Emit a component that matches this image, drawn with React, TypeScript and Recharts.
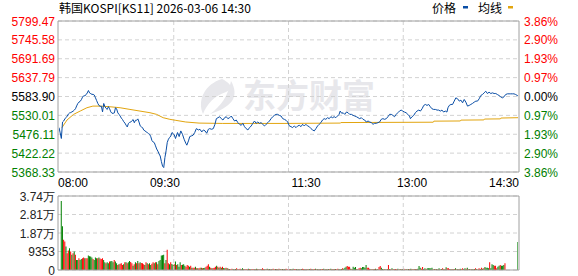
import React from 'react';
import { LineChart, Line, XAxis, YAxis, CartesianGrid, ReferenceLine, BarChart, Bar, Cell } from 'recharts';

// ---------- data ----------
const titleText = '韩国KOSPI[KS11] 2026-03-06 14:30';
const legendNames = ['价格', '均线'];
const prevClose = 5583.9;

const priceTicks = [5368.33, 5422.22, 5476.11, 5530.01, 5583.9, 5637.79, 5691.69, 5745.58, 5799.47];
const priceTickLabels = ['5368.33', '5422.22', '5476.11', '5530.01', '5583.90', '5637.79', '5691.69', '5745.58', '5799.47'];
const pctTickLabels = ['3.86%', '2.90%', '1.93%', '0.97%', '0.00%', '0.97%', '1.93%', '2.90%', '3.86%'];

const timeTicks = [0, 90, 210, 300, 390];
const timeTickLabels = ['08:00', '09:30', '11:30', '13:00', '14:30'];
const gridMinutes = [97.5, 195, 292.5];

const volTicks = [0, 9353, 18706, 28059, 37412];
const volTickLabels = ['0', '9353', '1.87万', '2.81万', '3.74万'];

// [minute since open, price]
const pricePoints: [number, number][] = [
  [0, 5495], [1, 5480], [2, 5464], [3, 5511], [4, 5514], [5, 5520], [6, 5524], [7, 5528], [8, 5534], [9, 5537],
  [10, 5538], [11, 5540], [12, 5542], [13, 5545], [14, 5549], [15, 5557], [16, 5564], [17, 5568], [18, 5570], [19, 5575],
  [20, 5582], [21, 5586], [22, 5586], [23, 5589], [24, 5594], [25, 5601], [26, 5594], [27, 5592], [28, 5590], [29, 5590],
  [30, 5588], [31, 5580], [32, 5572], [33, 5564], [34, 5558], [35, 5556], [36, 5556], [37, 5540], [38, 5564], [39, 5555],
  [40, 5550], [41, 5547], [42, 5555], [43, 5549], [44, 5540], [45, 5536], [46, 5536], [47, 5537], [48, 5552], [49, 5548],
  [50, 5537], [51, 5533], [52, 5528], [53, 5522], [54, 5518], [55, 5512], [56, 5508], [57, 5502], [58, 5497], [59, 5507],
  [60, 5510], [61, 5511], [62, 5515], [63, 5518], [64, 5509], [65, 5516], [66, 5516], [67, 5520], [68, 5511], [69, 5500],
  [70, 5497], [71, 5495], [72, 5488], [73, 5486], [74, 5483], [75, 5481], [76, 5478], [77, 5476], [78, 5469], [79, 5458],
  [80, 5454], [81, 5452], [82, 5443], [83, 5434], [84, 5428], [85, 5420], [86, 5414], [87, 5398], [88, 5385], [89, 5381],
  [90, 5410], [91, 5429], [92, 5453], [93, 5462], [94, 5467], [95, 5471], [96, 5481], [97, 5478], [98, 5474], [99, 5464],
  [100.7, 5481], [102.1, 5469.5], [103.5, 5485.6], [104.9, 5476], [106.3, 5461.9], [107.7, 5450.6], [108.6, 5444.9], [110, 5457.2],
  [111.1, 5469.5], [112.5, 5471.4], [113.9, 5473.3], [115.3, 5480.8], [116.7, 5492.2], [118.4, 5488.4], [119.8, 5490.3], [121.3, 5482.7],
  [122.7, 5488.4], [124.1, 5485.6], [125.5, 5478.9], [126.9, 5490.3], [128, 5492.2], [129.7, 5490.3], [131.1, 5492.2], [132.5, 5504.5],
  [133.7, 5520.6], [135.1, 5523.4], [136.5, 5526.2], [137.9, 5520.6], [139.3, 5516.8], [140.7, 5523.4], [142.1, 5526.2], [143.5, 5520.6],
  [145, 5523.4], [146.4, 5528.1], [147.8, 5520.6], [149.2, 5513.9], [150.6, 5516.8], [152, 5509.2], [153.4, 5504.5], [154.8, 5501.6],
  [156.2, 5507.3], [157.6, 5497.9], [159, 5492.2], [160.5, 5488.4], [161.9, 5495], [163.3, 5499.8], [164.7, 5507.3], [166.1, 5513.9],
  [167.5, 5507.3], [168.9, 5511.1], [170.3, 5507.3], [171.7, 5509.2], [173.1, 5504.5], [174.6, 5499.8], [176, 5504.5], [177.4, 5509.2],
  [178.8, 5513.9], [180.2, 5520.6], [181.6, 5526.2], [183, 5530], [184.4, 5532.9], [185.8, 5532.9], [187.2, 5530], [188.7, 5528.1],
  [190.1, 5520.6], [191.5, 5518.7], [192.9, 5516], [194.3, 5511.1], [195.7, 5499.8], [197.1, 5497.9],
  [198.5, 5495], [199.9, 5499.8], [201.4, 5495], [202.8, 5499.8], [204.2, 5501.6], [205.6, 5497.9], [207, 5504.5], [208.4, 5499.8],
  [209.8, 5504.5], [211.2, 5499.8], [212.6, 5497.9], [214.1, 5492.2], [215.5, 5488.4], [216.9, 5485.6], [218.3, 5492.2], [219.7, 5499.8],
  [221.1, 5504.5], [222.5, 5509.2], [223.9, 5516.8], [225.3, 5520.6], [226.7, 5518.7], [228.2, 5523.4], [229.6, 5520.6], [231, 5526.2],
  [232.4, 5523.4], [233.8, 5526.2], [235.2, 5523.4], [236.6, 5528.1], [238, 5532.9], [238.9, 5542.3], [240.3, 5535.7], [241.4, 5537.6],
  [242.8, 5532.9], [244.2, 5539.5], [245.6, 5537.6], [247, 5532.9], [248.5, 5532.9], [249.9, 5530], [251.3, 5528.1], [252.7, 5526.2],
  [254.1, 5523.4], [255.5, 5520.6], [256.9, 5523.4], [258.3, 5518.7], [259.7, 5516.8], [261.1, 5511.1], [262.6, 5513.9], [264, 5511.1],
  [265.4, 5509.2], [266.8, 5504.5], [268.2, 5507.3], [269.6, 5507.3], [271, 5509.2], [272.4, 5511.1], [273.8, 5518.7], [275.2, 5520.6],
  [276.7, 5518.7], [278.1, 5520.6], [279.5, 5526.2], [280.9, 5532.9], [282.3, 5532.9], [283.7, 5530], [285.1, 5526.2], [286.5, 5532.9],
  [287.9, 5537.6],
  [289.3, 5542.3], [290.7, 5545.1], [292.1, 5542.3], [293.5, 5539.5], [294.9, 5537.6], [296.4, 5532.9], [297.8, 5528.1], [298.6, 5520.6],
  [300, 5526.2], [301.4, 5530], [302.8, 5537.6], [304.2, 5542.3], [305.7, 5545.1], [307.1, 5542.3], [308.5, 5548.9], [309.9, 5558.4],
  [311.3, 5561.2], [312.7, 5558.4], [314.1, 5561.2], [315.5, 5554.6], [316.9, 5548.9], [318.3, 5547], [319.8, 5547], [321.2, 5545.1],
  [322.6, 5545.1], [324, 5542.3], [325.4, 5545.1], [326.8, 5539.5], [328.2, 5542.3], [329.6, 5539.5], [330.5, 5551.8], [331.6, 5558.4],
  [333, 5561.2], [334.4, 5561.2], [335.8, 5570.7], [337.2, 5580.1], [338.7, 5577.3], [340.1, 5570.7], [341.5, 5573.5], [342.9, 5565.9],
  [344.3, 5575.4], [345.7, 5567.8], [347.1, 5556.5], [348.5, 5558.4], [349.9, 5561.2], [351.3, 5564], [352.8, 5567.8], [354.2, 5570.7],
  [355.6, 5570.7], [357, 5577.3], [358.4, 5586.7], [359.8, 5589.6], [361.2, 5594.3], [362.6, 5599], [364, 5592.4], [365.4, 5596.2],
  [366.9, 5592.4], [368.3, 5594.3], [369.7, 5592.4], [371.1, 5592.4], [372.5, 5589.6], [373.9, 5586.7], [375.3, 5583], [376.7, 5580.1],
  [378.1, 5583], [379.5, 5589.6], [381, 5591.5], [382.4, 5591.5], [383.8, 5591.5], [385.2, 5591.5], [386.6, 5591.5], [388, 5589.6],
  [389.4, 5586.7], [390, 5586],
];

// [minute, average price]
const avgPoints: [number, number][] = [
  [2.5, 5495], [6.8, 5516.8], [12.4, 5532.9], [18, 5542.3], [23.7, 5551.8], [28.8, 5556.5], [35, 5556.5], [43.4, 5554.6],
  [51.9, 5551.8], [60.3, 5547], [68.8, 5542.3], [77.3, 5537.6], [82.9, 5532.9], [88.5, 5523.4], [94.2, 5518.7], [99.3, 5515.8],
  [107.7, 5511.1], [119, 5508], [138.7, 5507], [165, 5507], [192, 5507], [239, 5508], [239.5, 5509.5], [318, 5510.5],
  [318.5, 5513.5], [341, 5514], [341.5, 5516.5], [361, 5517], [361.5, 5519.5], [375, 5520], [375.5, 5522.4], [390, 5523.4],
];

// per-minute volume, minute 0..390
const volumes = [
  0, 0, 34850, 22100, 15300, 14450, 11900, 8500, 9800, 11050,
  9350, 7650, 8500, 9350, 7650, 5100, 5100, 5950, 5100, 5600,
  5950, 6290, 5950, 5950, 5950, 7310, 6900, 6800, 6290, 5610,
  5100, 6290, 5950, 5950, 6290, 5800, 5610, 5950, 5100, 3910,
  3400, 3910, 3400, 4250, 4400, 4590, 3910, 5100, 4250, 3400,
  2550, 2890, 3100, 3400, 2550, 2890, 3910, 3910, 3400, 3910,
  4590, 4000, 3400, 2210, 2890, 3910, 3400, 4590, 3400, 3910,
  3600, 3400, 2890, 2550, 3910, 3400, 2890, 3400, 2550, 3200,
  3910, 3400, 3910, 3910, 2890, 4590, 5100, 7310, 7500, 7650,
  3400, 5100, 10200, 3400, 2890, 3910, 3000, 2550, 2890, 4250,
  2550, 2890, 1700, 3910, 2550, 2700, 2890, 2210, 1700, 2550,
  2210, 1700, 2210, 1190, 1100, 1190, 1700, 850, 850, 850,
  1190, 1190, 850, 1000, 1190, 1700, 2210, 2890, 1700, 1190,
  850, 1000, 1190, 1700, 2210, 1700, 1190, 1700, 1190, 1700,
  1000, 850, 1190, 850, 600, 510, 340, 680, 510, 340,
  510, 850, 340, 510, 680, 340, 850, 510, 340, 510,
  340, 680, 510, 340, 510, 510, 340, 340, 680, 510,
  340, 510, 340, 850, 510, 340, 510, 680, 340, 510,
  340, 510, 680, 340, 510, 510, 340, 680, 510, 340,
  510, 340, 510, 680, 340, 510, 340, 510, 340, 680,
  510, 340, 510, 340, 510, 340, 510, 680, 510, 340,
  510, 340, 340, 510, 680, 510, 340, 510, 680, 340,
  510, 340, 510, 340, 510, 680, 340, 510, 340, 510,
  340, 680, 510, 340, 510, 510, 340, 680, 510, 340,
  510, 850, 680, 1190, 1700, 2040, 1700, 1700, 600, 510,
  1700, 1190, 1530, 510, 340, 850, 1190, 850, 1530, 1530,
  1200, 2550, 1190, 1190, 680, 340, 510, 340, 510, 680,
  340, 510, 1530, 2040, 1190, 510, 340, 510, 340, 510,
  2550, 510, 340, 850, 510, 340, 510, 340, 680, 340,
  510, 340, 510, 680, 340, 510, 340, 510, 340, 680,
  510, 340, 510, 340, 510, 680, 2040, 1190, 680, 1530,
  510, 850, 510, 850, 850, 850, 850, 1190, 340, 510,
  340, 510, 340, 850, 340, 510, 850, 340, 510, 1360,
  850, 850, 510, 340, 510, 340, 510, 850, 340, 510,
  340, 680, 340, 850, 510, 850, 680, 1190, 340, 510,
  340, 510, 340, 510, 850, 510, 340, 850, 510, 1190,
  680, 850, 1530, 1190, 1190, 850, 3910, 850, 2890, 2550,
  2210, 2210, 850, 1700, 2210, 2550, 2210, 2210, 2550, 3400,
  0, 0, 0, 0, 0, 0, 0, 0, 0, 0,
  14100,
];

// r = up (red), g = down (green), one char per minute
const volumeDirections = [
  'ggggrrgrrg', 'rgrgrggrgg', 'rrgrrggggr', 'gggrgrrrgg', 'rggrgggrgg',
  'rgrrrgrgrg', 'grrgrgrgrg', 'rrrgrgrggr', 'rgrgrggggg', 'rgrrgrggrg',
  'rgggrgggrr', 'rgrgrrgrgr', 'rgrggrrrgr', 'grrrgrgrgr', 'ggrgrgrrgr',
  'grgrrggrgr', 'rgrgrrgrgr', 'grgrrgrgrg', 'rgrrgrgrgr', 'grgrrgrgrg',
  'rrgrgrgrrg', 'rgrgrgrrgr', 'grgrrgrgrg', 'rgrgrgrrgr', 'grgggrrrgr',
  'gggrgrrggg', 'ggrrrgrgrg', 'rgrrggrgrg', 'rgrgrgrrgr', 'grgrrgrgrg',
  'rgrgrgggrr', 'ggrgggggrg', 'rgrgrgrgrg', 'rrrgrgrgrg', 'rgrrggrgrg',
  'rgrgrgrrgr', 'grggggrggg', 'rrrggrgggr', 'gggggggggg', 'g',
].join('');

// ---------- styles ----------
const RED = '#ff0000';
const GREEN = '#008000';
const FRAME = '#a0a0a0';
const GRID = '#d2d2d2';
const PRICE_COLOR = '#0a4ea6';
const AVG_COLOR = '#e2a50f';
const NUM_FONT = '"Liberation Sans", Arial, sans-serif';
const CJK_FONT = '"Noto Sans CJK SC", "Noto Sans", sans-serif';

const priceData = pricePoints.map(([t, p]) => ({ t, price: p }));
const avgData = avgPoints.map(([t, a]) => ({ t, avg: a }));
const volData = volumes.map((v, i) => ({ t: i, v, up: volumeDirections[i] === 'r' }));

const findIdx = (arr: number[], v: number) => arr.findIndex((a) => Math.abs(a - v) < 1e-6);
const levelColor = (v: number) => (v > prevClose + 0.01 ? RED : v < prevClose - 0.01 ? GREEN : '#000');

const PriceTick = (props: any) => {
  const { y, payload } = props;
  const i = findIdx(priceTicks, payload.value);
  return (
    <text x={55} y={y} dy={4.5} textAnchor="end" fontSize={12} fontFamily={NUM_FONT} fill={levelColor(payload.value)}>
      {priceTickLabels[i]}
    </text>
  );
};

const PctTick = (props: any) => {
  const { y, payload } = props;
  const i = findIdx(priceTicks, payload.value);
  return (
    <text x={524} y={y} dy={4.5} textAnchor="start" fontSize={12} fontFamily={NUM_FONT} fill={levelColor(payload.value)}>
      {pctTickLabels[i]}
    </text>
  );
};

const TimeTick = (props: any) => {
  const { x, payload } = props;
  const i = timeTicks.indexOf(payload.value);
  const anchor = i === 0 ? 'start' : i === timeTicks.length - 1 ? 'end' : 'middle';
  const xx = i === 0 ? 58 : i === timeTicks.length - 1 ? 519 : x;
  return (
    <text x={xx} y={187} textAnchor={anchor} fontSize={12} fontFamily={NUM_FONT} fill="#000">
      {timeTickLabels[i]}
    </text>
  );
};

const VolTick = (props: any) => {
  const { y, payload } = props;
  const i = findIdx(volTicks, payload.value);
  return (
    <text x={55} y={y} dy={4.5} textAnchor="end" fontSize={12} fontFamily={NUM_FONT} fill="#222">
      {volTickLabels[i]}
    </text>
  );
};

const Background = () => (
  <svg width={578} height={276} style={{ position: 'absolute', left: 0, top: 0 }}>
    <text x={59} y={13} fontSize={12} fontFamily={CJK_FONT} fill="#000">{titleText}</text>
    <text x={432} y={13} fontSize={12} fontFamily={CJK_FONT} fill="#000">{legendNames[0]}</text>
    <rect x={463} y={6} width={5} height={2.5} fill={PRICE_COLOR} />
    <text x={478} y={13} fontSize={12} fontFamily={CJK_FONT} fill="#000">{legendNames[1]}</text>
    <rect x={508} y={6} width={5} height={2.5} fill={AVG_COLOR} />
    {/* watermark */}
    <g fill="#e7e7eb">
      <path d="M 222 79 C 205 84 197 100 203 114 C 207 104 214 96 226 92 C 232 90 234 85 222 79 Z" />
      <path d="M 231 81 C 235 88 236 95 232 101 C 227 107 220 111 210 114 C 221 106 228 96 231 81 Z" />
    </g>
    <text x={243} y={108} fontSize={33} fontWeight={700} fontFamily={CJK_FONT} fill="#e7e7eb">东方财富</text>
  </svg>
);

export default function App() {
  return (
    <div style={{ position: 'absolute', left: 0, top: 0, width: 578, height: 276, background: '#fff', overflow: 'hidden' }}>
      <Background />
      <div style={{ position: 'absolute', left: 0, top: 0 }}>
        <LineChart width={578} height={191} data={priceData} margin={{ top: 21, right: 0, bottom: 0, left: 0 }}>
          <CartesianGrid vertical={false} stroke={GRID} strokeDasharray="4 3" />
          <XAxis
            dataKey="t"
            type="number"
            domain={[0, 390]}
            ticks={timeTicks}
            interval={0}
            tick={<TimeTick />}
            tickLine={false}
            axisLine={{ stroke: FRAME }}
            height={19}
            padding={{ left: 1, right: 1 }}
            allowDataOverflow
          />
          <YAxis
            type="number"
            domain={[priceTicks[0], priceTicks[priceTicks.length - 1]]}
            ticks={priceTicks}
            interval={0}
            tick={<PriceTick />}
            tickLine={false}
            axisLine={{ stroke: FRAME }}
            width={58}
            allowDataOverflow
          />
          <YAxis
            yAxisId="right"
            orientation="right"
            type="number"
            domain={[priceTicks[0], priceTicks[priceTicks.length - 1]]}
            ticks={priceTicks}
            interval={0}
            tick={<PctTick />}
            tickLine={false}
            axisLine={{ stroke: FRAME }}
            width={59}
            allowDataOverflow
          />
          {gridMinutes.map((m) => (
            <ReferenceLine key={m} x={m} stroke={GRID} strokeDasharray="4 3" />
          ))}
          <ReferenceLine y={priceTicks[priceTicks.length - 1]} stroke={FRAME} />
          <Line
            data={avgData}
            dataKey="avg"
            type="linear"
            stroke={AVG_COLOR}
            strokeWidth={1}
            dot={false}
            isAnimationActive={false}
          />
          <Line
            dataKey="price"
            type="linear"
            stroke={PRICE_COLOR}
            strokeWidth={1}
            dot={false}
            isAnimationActive={false}
          />
        </LineChart>
      </div>
      <div style={{ position: 'absolute', left: 0, top: 190 }}>
        <BarChart width={578} height={86} data={volData} margin={{ top: 6, right: 0, bottom: 6, left: 0 }} barGap={0} barCategoryGap={0}>
          <CartesianGrid vertical={false} stroke={GRID} strokeDasharray="4 3" />
          <XAxis dataKey="t" type="number" domain={[0, 390]} hide padding={{ left: 1, right: 1 }} allowDataOverflow />
          <YAxis
            type="number"
            domain={[0, volTicks[volTicks.length - 1]]}
            ticks={volTicks}
            interval={0}
            tick={<VolTick />}
            tickLine={false}
            axisLine={{ stroke: FRAME }}
            width={58}
            allowDataOverflow
          />
          <YAxis yAxisId="right" orientation="right" width={59} tick={false} tickLine={false} axisLine={{ stroke: FRAME }} domain={[0, 1]} />
          {gridMinutes.map((m) => (
            <ReferenceLine key={m} x={m} stroke={GRID} strokeDasharray="4 3" />
          ))}
          <ReferenceLine y={volTicks[volTicks.length - 1]} stroke={FRAME} />
          <Bar dataKey="v" barSize={1} isAnimationActive={false}>
            {volData.map((d, i) => (
              <Cell key={i} fill={d.up ? RED : GREEN} />
            ))}
          </Bar>
          <ReferenceLine y={0} stroke={FRAME} />
        </BarChart>
      </div>
    </div>
  );
}
